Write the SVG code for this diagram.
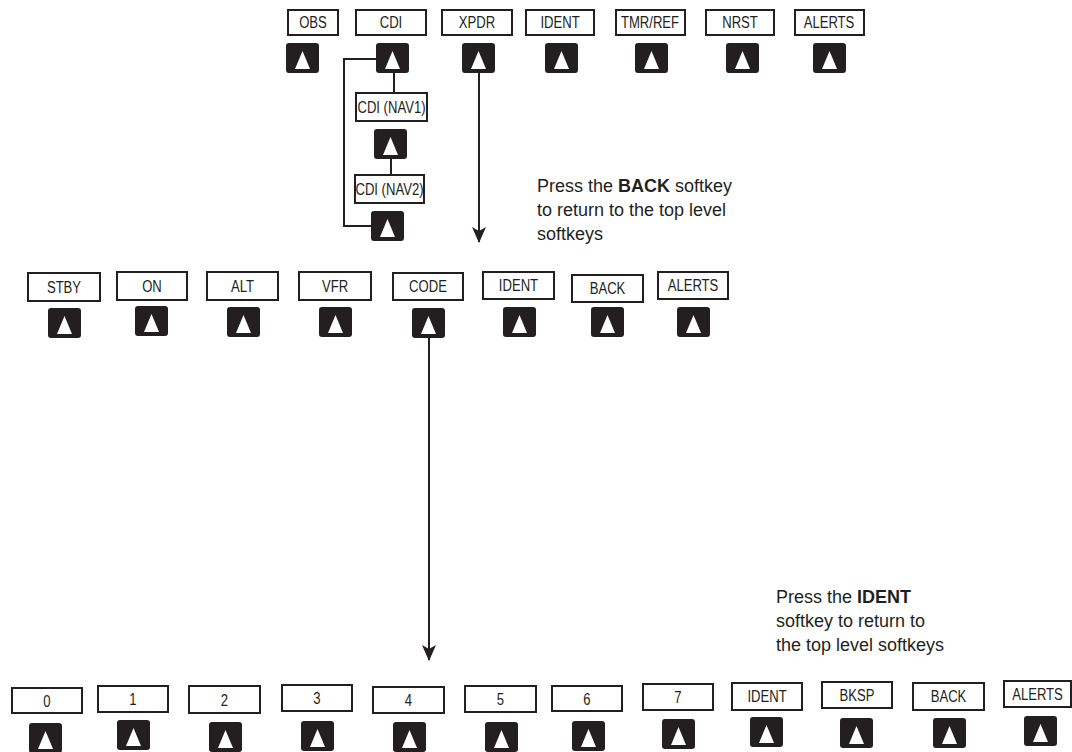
<svg xmlns="http://www.w3.org/2000/svg" width="1072" height="752" viewBox="0 0 1072 752">
<defs>
<style>
.box{fill:#fff;stroke:#231f20;stroke-width:2}
.btn{fill:#231f20}
.tri{fill:#fff}
.lbl{font-family:"Liberation Sans",Arial,sans-serif;font-size:17px;fill:#231f20;text-anchor:middle;transform-box:fill-box;transform-origin:center;transform:scaleX(0.77)}
.note{font-family:"Liberation Sans",Arial,sans-serif;font-size:18px;fill:#231f20}
.line{fill:none;stroke:#231f20;stroke-width:2}
</style>
<marker id="ah" markerUnits="userSpaceOnUse" markerWidth="16" markerHeight="14" viewBox="0 0 16 14" refX="15" refY="7" orient="auto">
<path d="M0,0 L16,7 L0,14 L4,7 Z" fill="#231f20"/>
</marker>
<g id="key"><rect class="btn" x="0" y="0" width="33" height="30" rx="3"/><path class="tri" d="M16.5,8 L24,26 L9,26 Z"/></g>
</defs>
<rect width="1072" height="752" fill="#fff"/>

<g id="connectors">
<path class="line" d="M394,73 V95"/>
<path class="line" d="M391,158 V175"/>
<path class="line" d="M371,226 H344 V59 H376"/>
<path class="line" d="M479,73 V242" marker-end="url(#ah)"/>
<path class="line" d="M429,337 V660" marker-end="url(#ah)"/>
</g>

<!-- top row -->
<g id="t-obs"><rect class="box" x="288" y="10" width="50" height="25"/><text class="lbl" x="313" y="28.5">OBS</text><use href="#key" x="286" y="43"/></g>
<g id="t-cdi"><rect class="box" x="356" y="10" width="70" height="25"/><text class="lbl" x="391" y="28.5">CDI</text><use href="#key" x="376" y="43"/></g>
<g id="t-xpdr"><rect class="box" x="442" y="10" width="70" height="25"/><text class="lbl" x="477" y="28.5">XPDR</text><use href="#key" x="462" y="43"/></g>
<g id="t-ident"><rect class="box" x="526" y="10" width="68" height="25"/><text class="lbl" x="560" y="28.5">IDENT</text><use href="#key" x="545" y="43"/></g>
<g id="t-tmr"><rect class="box" x="616" y="10" width="69" height="25"/><text class="lbl" x="650" y="28.5">TMR/REF</text><use href="#key" x="635" y="43"/></g>
<g id="t-nrst"><rect class="box" x="706" y="10" width="68" height="25"/><text class="lbl" x="740" y="28.5">NRST</text><use href="#key" x="726" y="43"/></g>
<g id="t-alerts"><rect class="box" x="795" y="10" width="69" height="25"/><text class="lbl" x="829" y="28.5">ALERTS</text><use href="#key" x="813" y="43"/></g>

<g id="cdi-nav1"><rect class="box" x="356" y="93" width="71" height="28"/><text class="lbl" x="391.5" y="113">CDI (NAV1)</text><use href="#key" x="374" y="129"/></g>
<g id="cdi-nav2"><rect class="box" x="355" y="175" width="69" height="28"/><text class="lbl" x="389.5" y="195">CDI (NAV2)</text><use href="#key" x="371" y="211"/></g>

<g id="note-back"><text class="note" x="537" y="192">Press the <tspan font-weight="bold">BACK</tspan> softkey</text><text class="note" x="537" y="216">to return to the top level</text><text class="note" x="537" y="240">softkeys</text></g>

<!-- middle row -->
<g id="m-stby"><rect class="box" x="28" y="273" width="72" height="28"/><text class="lbl" x="64" y="293">STBY</text><use href="#key" x="48" y="308"/></g>
<g id="m-on"><rect class="box" x="117" y="272" width="70" height="28"/><text class="lbl" x="152" y="292">ON</text><use href="#key" x="135" y="306"/></g>
<g id="m-alt"><rect class="box" x="207" y="272" width="71" height="28"/><text class="lbl" x="242.5" y="292">ALT</text><use href="#key" x="227" y="307"/></g>
<g id="m-vfr"><rect class="box" x="299" y="272" width="72" height="28"/><text class="lbl" x="335" y="292">VFR</text><use href="#key" x="319" y="307"/></g>
<g id="m-code"><rect class="box" x="393" y="273" width="70" height="27"/><text class="lbl" x="428" y="292">CODE</text><use href="#key" x="412" y="308"/></g>
<g id="m-ident"><rect class="box" x="483" y="272" width="71" height="27"/><text class="lbl" x="518.5" y="291">IDENT</text><use href="#key" x="503" y="307"/></g>
<g id="m-back"><rect class="box" x="572" y="275" width="71" height="27"/><text class="lbl" x="607.5" y="294">BACK</text><use href="#key" x="591" y="307"/></g>
<g id="m-alerts"><rect class="box" x="658" y="272" width="70" height="27"/><text class="lbl" x="693" y="291">ALERTS</text><use href="#key" x="677" y="307"/></g>

<g id="note-ident"><text class="note" x="776" y="603">Press the <tspan font-weight="bold">IDENT</tspan></text><text class="note" x="776" y="627">softkey to return to</text><text class="note" x="776" y="651">the top level softkeys</text></g>

<!-- bottom row -->
<g id="b-0"><rect class="box" x="12" y="688" width="70" height="25"/><text class="lbl" x="47" y="707">0</text><use href="#key" x="29" y="723"/></g>
<g id="b-1"><rect class="box" x="98" y="686" width="70" height="26"/><text class="lbl" x="133" y="705">1</text><use href="#key" x="117" y="720"/></g>
<g id="b-2"><rect class="box" x="189" y="686" width="71" height="27"/><text class="lbl" x="224.5" y="706">2</text><use href="#key" x="209" y="722"/></g>
<g id="b-3"><rect class="box" x="282" y="685" width="70" height="26"/><text class="lbl" x="317" y="704">3</text><use href="#key" x="301" y="721"/></g>
<g id="b-4"><rect class="box" x="373" y="687" width="71" height="26"/><text class="lbl" x="408.5" y="706">4</text><use href="#key" x="393" y="722"/></g>
<g id="b-5"><rect class="box" x="465" y="686" width="71" height="26"/><text class="lbl" x="500.5" y="705">5</text><use href="#key" x="485" y="722"/></g>
<g id="b-6"><rect class="box" x="552" y="686" width="70" height="25"/><text class="lbl" x="587" y="705">6</text><use href="#key" x="572" y="721"/></g>
<g id="b-7"><rect class="box" x="643" y="684" width="70" height="26"/><text class="lbl" x="678" y="703">7</text><use href="#key" x="662" y="719"/></g>
<g id="b-ident"><rect class="box" x="732" y="683" width="70" height="27"/><text class="lbl" x="767" y="702">IDENT</text><use href="#key" x="750" y="717"/></g>
<g id="b-bksp"><rect class="box" x="822" y="682" width="70" height="26"/><text class="lbl" x="857" y="701">BKSP</text><use href="#key" x="840" y="718"/></g>
<g id="b-back"><rect class="box" x="913" y="683" width="71" height="27"/><text class="lbl" x="948.5" y="702">BACK</text><use href="#key" x="933" y="718"/></g>
<g id="b-alerts"><rect class="box" x="1004" y="681" width="67" height="26"/><text class="lbl" x="1037.5" y="700">ALERTS</text><use href="#key" x="1024" y="716"/></g>
</svg>
